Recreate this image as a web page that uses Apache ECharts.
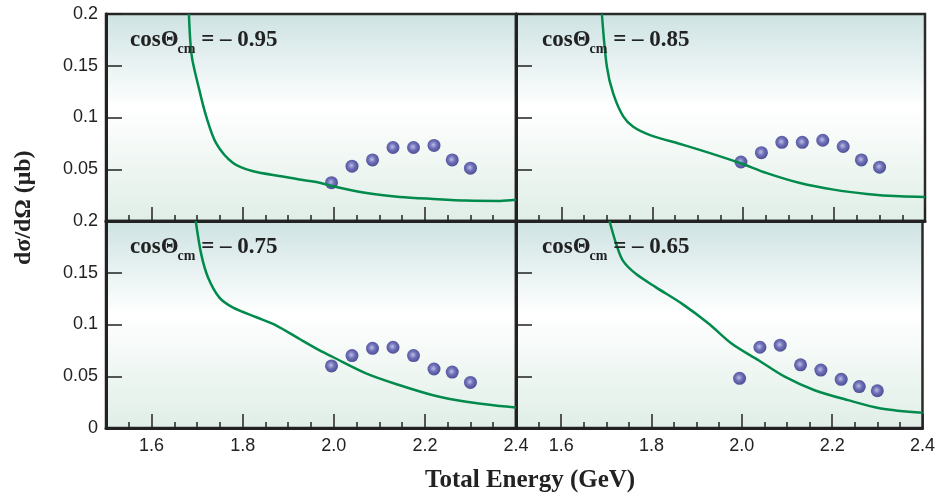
<!DOCTYPE html>
<html>
<head>
<meta charset="utf-8">
<script src="https://cdn.jsdelivr.net/npm/echarts@6/dist/echarts.min.js"></script>
<style>
  html, body { margin: 0; padding: 0; background: #fff; }
  #main { width: 938px; height: 496px; }
</style>
</head>
<body>
<div id="main"></div>
<script>
// data points (same energies in every panel)
var energies = [1.995, 2.04, 2.085, 2.13, 2.175, 2.22, 2.26, 2.30];
var cosLabels = ['– 0.95', '– 0.85', '– 0.75', '– 0.65'];

var dots95 = [0.037, 0.053, 0.059, 0.071, 0.071, 0.073, 0.059, 0.051];
var dots85 = [0.057, 0.066, 0.076, 0.076, 0.078, 0.072, 0.059, 0.052];
var dots75 = [0.060, 0.070, 0.077, 0.078, 0.070, 0.057, 0.054, 0.044];
var dots65 = [0.048, 0.078, 0.080, 0.061, 0.056, 0.047, 0.040, 0.036];

// model curves, [energy, value]
var curve95 = [[1.682, 0.2], [1.688, 0.160], [1.703, 0.130], [1.720, 0.101], [1.742, 0.075],
  [1.779, 0.056], [1.823, 0.048], [1.888, 0.043], [1.925, 0.040], [1.969, 0.037],
  [1.998, 0.0335], [2.072, 0.027], [2.145, 0.0233], [2.218, 0.0213], [2.291, 0.0197],
  [2.365, 0.0194], [2.40, 0.0205]];
var curve85 = [[1.689, 0.2], [1.700, 0.149], [1.714, 0.123], [1.736, 0.101], [1.758, 0.091],
  [1.795, 0.083], [1.868, 0.0736], [1.927, 0.0656], [1.993, 0.056], [2.052, 0.0463],
  [2.125, 0.0367], [2.199, 0.0303], [2.272, 0.0262], [2.345, 0.0238], [2.40, 0.0233]];
var curve75 = [[1.697, 0.2], [1.709, 0.168], [1.724, 0.1455], [1.749, 0.126], [1.778, 0.1166],
  [1.830, 0.107], [1.874, 0.099], [1.925, 0.086], [1.969, 0.075], [1.998, 0.0686],
  [2.072, 0.0526], [2.145, 0.0413], [2.218, 0.0317], [2.291, 0.0253], [2.365, 0.0212],
  [2.40, 0.0199]];
var curve65 = [[1.707, 0.2], [1.722, 0.1776], [1.737, 0.1615], [1.766, 0.1487], [1.810, 0.1359],
  [1.868, 0.1199], [1.927, 0.1007], [1.978, 0.0814], [2.037, 0.0654], [2.096, 0.0493],
  [2.161, 0.0365], [2.235, 0.0269], [2.308, 0.0189], [2.40, 0.0147]];

var majorTicks = [1.6, 1.8, 2.0, 2.2, 2.4];

var allDots = [dots95, dots85, dots75, dots65];
var allCurves = [curve95, curve85, curve75, curve65];

var chart = echarts.init(document.getElementById('main'));

var grids = [
  {left: 106, top: 14, width: 410, height: 207},
  {left: 516, top: 14, width: 409, height: 207},
  {left: 106, top: 221, width: 410, height: 207},
  {left: 516, top: 221, width: 409, height: 207}
];
var bg = {
  type: 'linear', x: 0, y: 0, x2: 0, y2: 1,
  colorStops: [
    {offset: 0, color: '#cde2e2'},
    {offset: 0.45, color: '#ffffff'},
    {offset: 1, color: '#dfeee6'}
  ]
};
grids.forEach(function (g) {
  g.show = true;
  g.backgroundColor = bg;
  g.borderColor = '#2a2a2a';
  g.borderWidth = 2.5;
  g.containLabel = false;
});

var xAxes = [], yAxes = [], series = [], titles = [];
for (var i = 0; i < 4; i++) {
  var bottomRow = i >= 2;
  var leftCol = i % 2 === 0;
  // minor ticks every 0.05
  xAxes.push({
    type: 'value', gridIndex: i, position: 'bottom', min: 1.5, max: 2.4, interval: 0.05,
    axisLine: {show: true, lineStyle: {color: '#222', width: 3}},
    axisTick: {show: true, inside: true, length: 6, lineStyle: {color: '#222', width: 1.5}},
    axisLabel: {show: false},
    splitLine: {show: false}
  });
  // major ticks + labels
  xAxes.push({
    type: 'value', gridIndex: i, position: 'bottom', min: 1.5, max: 2.4,
    axisLine: {show: false},
    axisTick: {show: true, inside: true, length: 14, customValues: majorTicks,
      lineStyle: {color: '#222', width: 1.5}},
    axisLabel: {show: bottomRow, customValues: majorTicks, margin: 9,
      fontFamily: 'Liberation Sans', fontSize: 18, color: '#222',
      formatter: function (v) { return v.toFixed(1); }},
    splitLine: {show: false}
  });
  yAxes.push({
    type: 'value', gridIndex: i, min: 0, max: 0.2, interval: 0.05,
    axisLine: {show: true, lineStyle: {color: '#222', width: 3}},
    axisTick: {show: true, inside: true, length: 16, lineStyle: {color: '#222', width: 1.5}},
    axisLabel: {show: leftCol, margin: 8, fontFamily: 'Liberation Sans', fontSize: 18, color: '#222',
      showMinLabel: bottomRow},
    splitLine: {show: false}
  });
  series.push({
    type: 'line', xAxisIndex: i * 2 + 1, yAxisIndex: i,
    data: allCurves[i], smooth: 0.3, showSymbol: false, clip: true,
    lineStyle: {color: '#008a4c', width: 2.5}
  });
  series.push({
    type: 'scatter', xAxisIndex: i * 2 + 1, yAxisIndex: i,
    data: energies.map(function (e, k) { return [e, allDots[i][k]]; }),
    symbolSize: 13,
    itemStyle: {
      color: {
        type: 'radial', x: 0.45, y: 0.45, r: 0.55,
        colorStops: [
          {offset: 0, color: '#aeb0e0'},
          {offset: 0.5, color: '#4c4ca8'},
          {offset: 1, color: '#26267e'}
        ]
      }
    }
  });
  titles.push({
    left: leftCol ? 125 : 537,
    top: bottomRow ? 228 : 21,
    text: '{a|cosΘ}{b|cm}{c| = ' + cosLabels[i] + '}',
    textStyle: {
      rich: {
        a: {fontFamily: 'Liberation Serif', fontWeight: 'bold', fontSize: 23, color: '#222',
          lineHeight: 28, verticalAlign: 'middle'},
        b: {fontFamily: 'Liberation Serif', fontWeight: 'bold', fontSize: 14, color: '#222',
          lineHeight: 28, verticalAlign: 'bottom', padding: [0, 0, -2, -1]},
        c: {fontFamily: 'Liberation Serif', fontWeight: 'bold', fontSize: 23, color: '#222',
          lineHeight: 28, verticalAlign: 'middle'}
      }
    }
  });
}

titles.push({
  text: 'Total Energy (GeV)',
  left: 420, top: 463,
  textStyle: {fontFamily: 'Liberation Serif', fontWeight: 'bold', fontSize: 25, color: '#222'}
});

var option = {
  animation: false,
  title: titles,
  grid: grids,
  xAxis: xAxes,
  yAxis: yAxes,
  series: series,
  graphic: [{
    type: 'text',
    x: 12, y: 265,
    rotation: Math.PI / 2,
    style: {
      text: 'dσ/dΩ (μb)',
      font: 'bold 24px "Liberation Serif"',
      fill: '#222'
    }
  }]
};

chart.setOption(option);
</script>
</body>
</html>
